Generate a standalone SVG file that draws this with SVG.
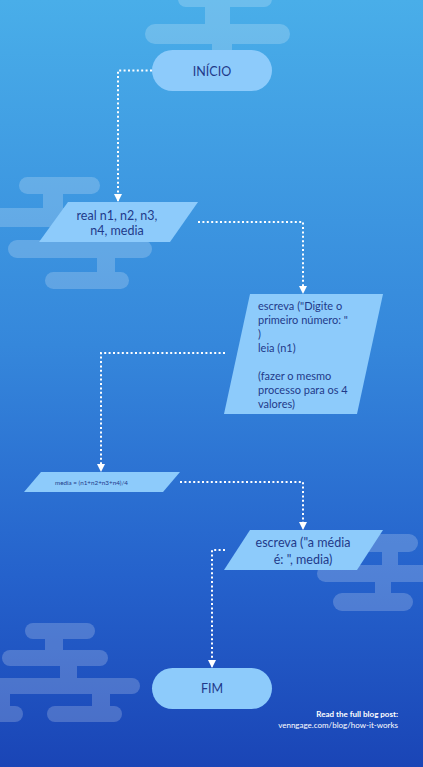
<svg xmlns="http://www.w3.org/2000/svg" width="423" height="767" viewBox="0 0 423 767">
<defs>
<linearGradient id="bg" x1="0" y1="0" x2="0" y2="1">
<stop offset="0" stop-color="#49AEE9"/>
<stop offset="0.45" stop-color="#3587DB"/>
<stop offset="0.75" stop-color="#2562CC"/>
<stop offset="1" stop-color="#1A45B6"/>
</linearGradient>
<marker id="arr" markerUnits="userSpaceOnUse" markerWidth="8" markerHeight="8" refX="7" refY="4" orient="auto">
<path d="M0,0 L8,4 L0,8 z" fill="#ffffff"/>
</marker>
<style>
.node{fill:#8DCBFB;}
.t{font-family:Lato,"Liberation Sans",sans-serif;fill:#1F3A8A;font-size:12.5px;}
.s{font-size:11px;}
.c{text-anchor:middle;}
.conn{fill:none;stroke:#ffffff;stroke-width:2;stroke-dasharray:2 2.4;}
.cloud{fill:#ffffff;}
.foot{font-family:Lato,"Liberation Sans",sans-serif;fill:#ffffff;font-size:8px;text-anchor:end;}
</style>
</defs>
<rect x="0" y="0" width="423" height="767" fill="url(#bg)"/>
<g id="clouds" class="cloud" opacity="0.2">
<rect x="178" y="-9" width="94" height="16" rx="8"/>
<rect x="205" y="5" width="25" height="21"/>
<rect x="145" y="24" width="145" height="20" rx="10"/>
<rect x="212" y="42" width="20" height="10"/>
<rect x="19" y="177" width="81" height="17" rx="8.5"/>
<rect x="43" y="192" width="20" height="18"/>
<rect x="-10" y="208" width="120" height="19" rx="9.5"/>
<rect x="8" y="240" width="144" height="18" rx="9"/>
<rect x="97" y="256" width="18" height="18"/>
<rect x="45" y="272" width="84" height="17" rx="8.5"/>
<rect x="350" y="534" width="68" height="18" rx="9"/>
<rect x="382" y="550" width="16" height="17"/>
<rect x="317" y="565" width="120" height="17" rx="8.5"/>
<rect x="375" y="580" width="16" height="14"/>
<rect x="333" y="593" width="80" height="18" rx="9"/>
<rect x="25" y="623" width="70" height="16" rx="8"/>
<rect x="45" y="637" width="18" height="15"/>
<rect x="2" y="650" width="106" height="16" rx="8"/>
<rect x="60" y="664" width="17" height="16"/>
<rect x="-20" y="678" width="160" height="16" rx="8"/>
<rect x="92" y="692" width="18" height="16"/>
<rect x="47" y="706" width="75" height="16" rx="8"/>
<rect x="-10" y="692" width="20" height="16"/>
<rect x="-30" y="706" width="53" height="16" rx="8"/>
</g>
<g id="connectors">
<path class="conn" d="M152,70.5 H118 V201" marker-end="url(#arr)"/>
<path class="conn" d="M198,222 H303 V293" marker-end="url(#arr)"/>
<path class="conn" d="M225,353 H101 V471" marker-end="url(#arr)"/>
<path class="conn" d="M180,482 H303 V529" marker-end="url(#arr)"/>
<path class="conn" d="M225,550 H212 V667" marker-end="url(#arr)"/>
</g>
<g id="inicio">
<rect class="node" x="152" y="50" width="120" height="41" rx="20.5"/>
<text class="t c" x="212" y="75.5">INÍCIO</text>
</g>
<g id="declara">
<polygon class="node" points="68,202 198,202 170,242 39,242"/>
<text class="t c" x="117" y="220">real n1, n2, n3,</text>
<text class="t c" x="117" y="235">n4, media</text>
</g>
<g id="leitura">
<polygon class="node" points="250,294 383,294 357,414 224,414"/>
<text class="t s" x="258" y="310">escreva ("Digite o</text>
<text class="t s" x="258" y="324">primeiro número: "</text>
<text class="t s" x="258" y="338">)</text>
<text class="t s" x="258" y="352">leia (n1)</text>
<text class="t s" x="258" y="380">(fazer o mesmo</text>
<text class="t s" x="258" y="394">processo para os 4</text>
<text class="t s" x="258" y="408">valores)</text>
</g>
<g id="calculo">
<polygon class="node" points="41,472 180,472 163,492 24,492"/>
<text class="t" x="55" y="484.5" style="font-size:6.3px">media = (n1+n2+n3+n4)/4</text>
</g>
<g id="saida">
<polygon class="node" points="250,530 383,530 357,570 224,570"/>
<text class="t c" x="303" y="547">escreva ("a média</text>
<text class="t c" x="303" y="564">é: ", media)</text>
</g>
<g id="fim">
<rect class="node" x="152" y="668" width="120" height="41" rx="20.5"/>
<text class="t c" x="212" y="693">FIM</text>
</g>
<g id="footer">
<text class="foot" x="398" y="717" font-weight="bold">Read the full blog post:</text>
<text class="foot" x="398" y="728">venngage.com/blog/how-it-works</text>
</g>
</svg>
